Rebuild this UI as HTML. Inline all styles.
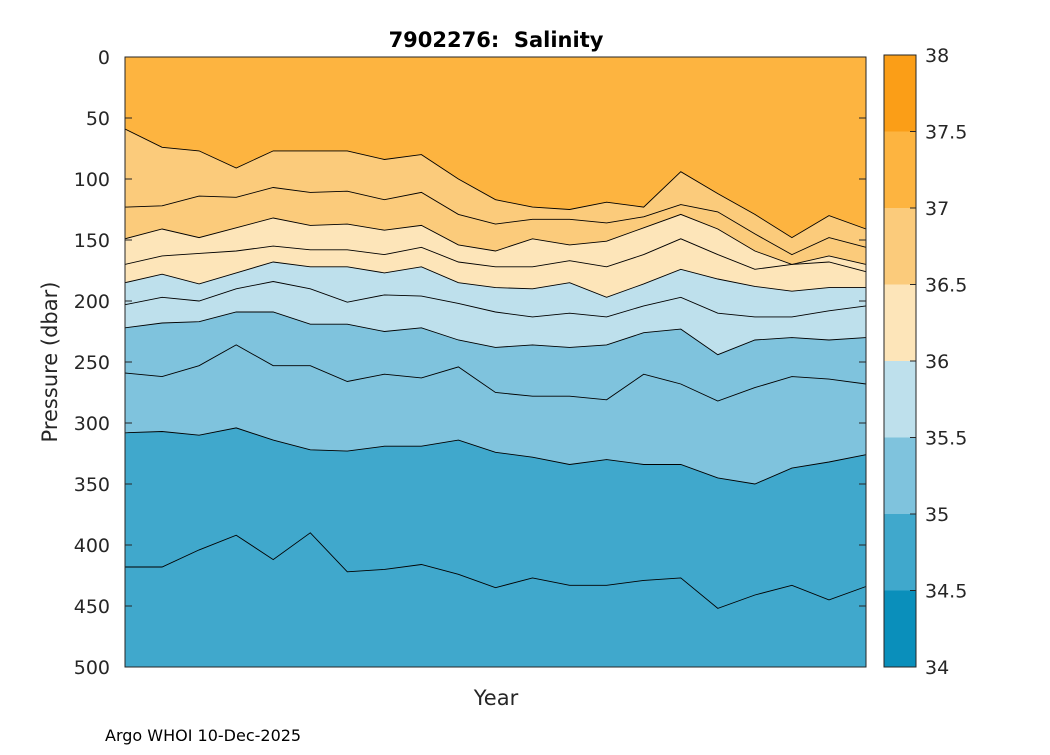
<!DOCTYPE html>
<html><head><meta charset="utf-8">
<style>
body{margin:0;background:#fff;}
svg text{font-family:"DejaVu Sans","Liberation Sans",sans-serif;fill:#262626;}
</style></head>
<body>
<svg id="chart" width="1050" height="750" viewBox="0 0 1050 750" xmlns="http://www.w3.org/2000/svg">
<rect width="1050" height="750" fill="#fff"/>
<g id="fills"></g>
<g id="lines"></g>
<g id="axes"></g>
<g id="cbar"></g>
<text x="496" y="47" text-anchor="middle" font-size="21" font-weight="bold" style="fill:#000;white-space:pre">7902276:  Salinity</text>
<text transform="translate(57,362) rotate(-90)" text-anchor="middle" font-size="21">Pressure (dbar)</text>
<text x="496" y="705" text-anchor="middle" font-size="21">Year</text>
<text x="105" y="741" font-size="16" style="fill:#000">Argo WHOI 10-Dec-2025</text>
</svg>
<script>
// profile index positions along x (evenly spaced profiles)
const profiles = [0,1,2,3,4,5,6,7,8,9,10,11,12,13,14,15,16,17,18,19,20];
// contour levels and pressure (dbar) of each contour line per profile
const levels = [37.0,36.75,36.5,36.25,36.0,35.75,35.5,35.25,35.0,34.75];
const c370  = [59,74,77,91,77,77,77,84,80,100,117,123,125,119,123,94,112,129,148,130,141];
const c3675 = [123,122,114,115,107,111,110,117,111,129,137,133,133,136,131,121,127,145,162,148,156];
const c365  = [149,141,148,140,132,138,137,142,138,154,159,149,154,151,140,129,141,159,170,163,170];
const c3625 = [170,163,161,159,155,158,158,162,156,168,172,172,167,172,162,149,162,174,170,168,176];
const c360  = [185,178,186,177,168,172,172,177,172,185,189,190,185,197,186,174,182,188,192,189,189];
const c3575 = [203,197,200,190,184,190,201,195,196,202,209,213,210,213,204,197,210,213,213,208,204];
const c355  = [222,218,217,209,209,219,219,225,222,232,238,236,238,236,226,223,244,232,230,232,230];
const c3525 = [259,262,253,236,253,253,266,260,263,254,275,278,278,281,260,268,282,271,262,264,268];
const c350  = [308,307,310,304,314,322,323,319,319,314,324,328,334,330,334,334,345,350,337,332,326];
const c3475 = [418,418,404,392,412,390,422,420,416,424,435,427,433,433,429,427,452,441,433,445,434];
const contours = [c370,c3675,c365,c3625,c360,c3575,c355,c3525,c350,c3475];
// colour bands: fill below contour index -> colour
const bandLevels = [37.0,36.5,36.0,35.5,35.0];
const cbarLevels = [34,34.5,35,35.5,36,36.5,37,37.5,38];
const cbarColors = ["#0a8fbb","#40a8cc","#7fc3dd","#bee0ec","#fde5b9","#fbcb7b","#fdb440","#fb9e17"];
const yTicks = [0,50,100,150,200,250,300,350,400,450,500];
const cTickLabels = ["34","34.5","35","35.5","36","36.5","37","37.5","38"];

const NS="http://www.w3.org/2000/svg";
const X0=125,X1=866,Y0=57,Y1=667;
const xs=i=>X0+(X1-X0)*i/(profiles.length-1);
const ys=p=>Y0+(Y1-Y0)*p/500;
const colorOf=v=>{for(let k=0;k<cbarLevels.length-1;k++){if(v<cbarLevels[k+1])return cbarColors[k];}return cbarColors[cbarColors.length-1];};
function mk(tag,attrs,parent){const e=document.createElementNS(NS,tag);for(const k in attrs)e.setAttribute(k,attrs[k]);parent.appendChild(e);return e;}

const fills=document.getElementById('fills');
const bg=mk('rect',{x:X0,y:Y0,width:X1-X0,height:Y1-Y0,fill:colorOf(37.2)},fills);


bandLevels.forEach(lv=>{
  const idx=levels.indexOf(lv);
  const arr=contours[idx];
  let d='M'+X0+','+Y1;
  arr.forEach((p,i)=>{d+=' L'+xs(profiles[i]).toFixed(1)+','+ys(p).toFixed(1);});
  d+=' L'+X1+','+Y1+' Z';
  const e=mk('path',{d:d,fill:colorOf(lv-0.25)},fills);
  
  
});
const lines=document.getElementById('lines');
contours.forEach((arr,j)=>{
  const pts=arr.map((p,i)=>xs(profiles[i]).toFixed(1)+','+ys(p).toFixed(1)).join(' ');
  const e=mk('polyline',{points:pts,fill:'none',stroke:'#000','stroke-width':0.9},lines);
  
  
});

const axes=document.getElementById('axes');
const frame=mk('rect',{x:X0,y:Y0,width:X1-X0,height:Y1-Y0,fill:'none',stroke:'#262626','stroke-width':1},axes);


yTicks.forEach(t=>{
  const y=ys(t);
  mk('line',{x1:X0,x2:X0+7,y1:y,y2:y,stroke:'#262626'},axes);
  mk('line',{x1:X1,x2:X1-7,y1:y,y2:y,stroke:'#262626'},axes);
  const tx=mk('text',{x:X0-15,y:y+7,'text-anchor':'end','font-size':19},axes);
  tx.textContent=t;
  
  
});

const cb=document.getElementById('cbar');
const CX0=884,CX1=916,CY0=55,CY1=667;
const cy=v=>CY1-(CY1-CY0)*(v-34)/4;
cbarColors.forEach((c,k)=>{
  const r=mk('rect',{x:CX0,y:cy(cbarLevels[k+1]),width:CX1-CX0,height:cy(cbarLevels[k])-cy(cbarLevels[k+1]),fill:c},cb);
  
  
});
mk('rect',{x:CX0,y:CY0,width:CX1-CX0,height:CY1-CY0,fill:'none',stroke:'#262626'},cb);
cbarLevels.forEach((v,k)=>{
  const y=cy(v);
  mk('line',{x1:CX1,x2:CX1-6,y1:y,y2:y,stroke:'#262626'},cb);
  const tx=mk('text',{x:CX1+9,y:y+7,'font-size':19},cb);
  tx.textContent=cTickLabels[k];
  
  
});
</script>
</body></html>
